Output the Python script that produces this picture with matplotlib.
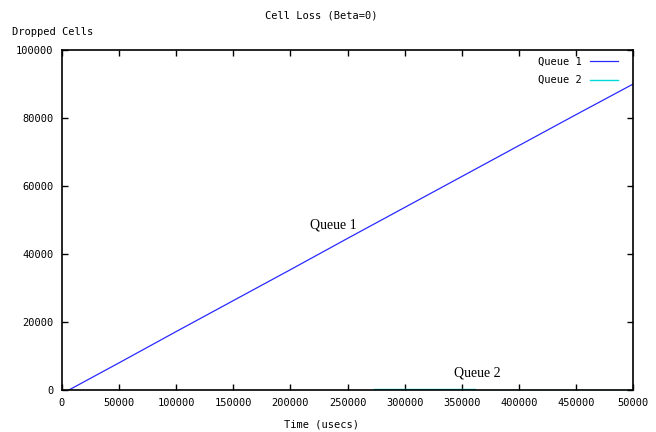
import numpy as np
import matplotlib.pyplot as plt

# Queue 1: cumulative dropped cells, roughly linear
q1_t = [6000, 50000, 100000, 150000, 200000, 250000, 300000, 350000, 400000, 450000, 500000]
q1_v = [0, 8000, 17200, 26300, 35400, 44600, 53700, 62800, 71900, 81000, 90000]

# Queue 2: very few drops, starting late
q2_t = [273000, 362000, 362000, 500000]
q2_v = [250, 250, 120, 120]

xticks = [0, 50000, 100000, 150000, 200000, 250000, 300000, 350000, 400000, 450000, 500000]
xticklabels = ['0', '50000', '100000', '150000', '200000', '250000', '300000',
               '350000', '400000', '450000', '50000']
yticks = [0, 20000, 40000, 60000, 80000, 100000]

mono = 'DejaVu Sans Mono'
fs = 7.5

fig = plt.figure(figsize=(6.56, 4.32), dpi=100)
ax = fig.add_axes([0.0945, 0.0972, 0.8705, 0.7868])

ax.plot(q1_t, q1_v, color='#2a2aff', lw=0.9, label='Queue 1')
ax.plot(q2_t, q2_v, color='#00d8d8', lw=1.0, label='Queue 2')

ax.set_xlim(0, 500000)
ax.set_ylim(0, 100000)
ax.set_xticks(xticks)
ax.set_xticklabels(xticklabels, fontfamily=mono, fontsize=fs)
ax.set_yticks(yticks)
ax.set_yticklabels([str(v) for v in yticks], fontfamily=mono, fontsize=fs)
ax.tick_params(direction='in', length=4, width=1, top=True, right=True, pad=6)
for s in ax.spines.values():
    s.set_linewidth(1.2)

fig.text(0.49, 0.965, 'Cell Loss (Beta=0)', ha='center', va='center',
         fontfamily=mono, fontsize=fs)
fig.text(0.018, 0.926, 'Dropped Cells', ha='left', va='center',
         fontfamily=mono, fontsize=fs)
fig.text(0.49, 0.017, 'Time (usecs)', ha='center', va='center',
         fontfamily=mono, fontsize=fs)

ax.text(238000, 48500, 'Queue 1', fontfamily='Liberation Serif', fontsize=10,
        ha='center', va='center')
ax.text(364000, 5000, 'Queue 2', fontfamily='Liberation Serif', fontsize=10,
        ha='center', va='center')

leg = ax.legend(loc='upper right', frameon=False, markerfirst=False,
                prop={'family': mono, 'size': fs}, handlelength=2.7,
                handletextpad=0.8, labelspacing=0.85, borderaxespad=0.2,
                bbox_to_anchor=(0.985, 1.0))

fig.savefig('out.png', dpi=100)
